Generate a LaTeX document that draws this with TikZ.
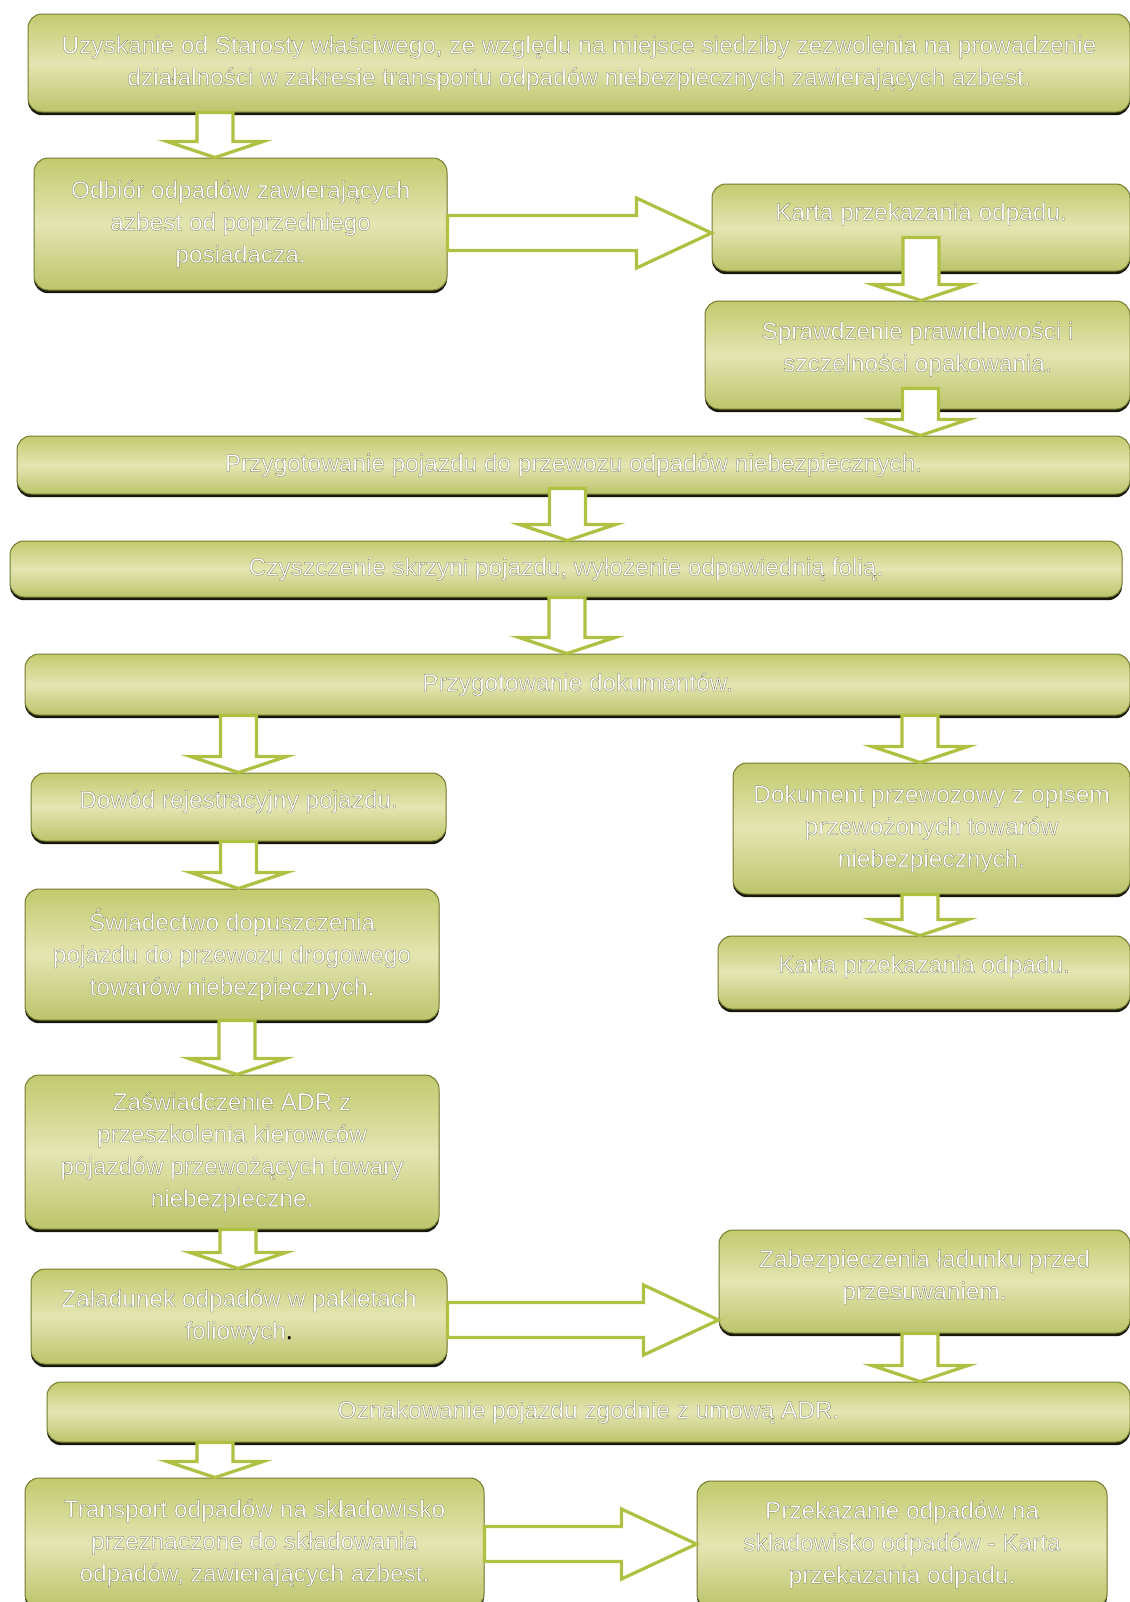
\documentclass[tikz,border=0pt]{standalone}
\usepackage{fontspec}
\setmainfont{Liberation Sans}
\newfontfamily\stepfont{Liberation Sans}[FakeBold=0.9]
\usetikzlibrary{calc, shadows}
\definecolor{boxedge}{RGB}{194,202,110}
\definecolor{boxmid}{RGB}{228,229,178}
\definecolor{boxline}{RGB}{118,124,48}
\definecolor{arrowline}{RGB}{176,192,66}
\tikzset{
  stepbox/.style={draw=boxline, line width=0.5pt, rounded corners=7pt, top color=boxedge, bottom color=boxedge!97!black, middle color=boxmid,
    drop shadow={shadow xshift=0pt, shadow yshift=-1.6pt, fill=black!80!boxline, opacity=1},
    align=center, inner sep=0pt, font=\stepfont\fontsize{12.2pt}{16.1pt}\selectfont,
    execute at begin node={\special{pdf:bcolor [1 1 1] [0.38 0.40 0.24]}},
    execute at end node={\special{pdf:ecolor}}},
  boxwh/.style 2 args={minimum width=#1*0.5pt, minimum height=#2*0.5pt},
  lift/.style={text depth=#1},
  blockdn/.style={fill=white, draw=arrowline, line width=1.6pt, line join=miter,
    to path={let \p1=(\tikztostart), \p2=(\tikztotarget) in (\x1-9pt,\y1) -- (\x1-9pt,\y2+8pt) -- (\x1-24pt,\y2+8pt) -- (\x1,\y2) -- (\x1+24pt,\y2+8pt) -- (\x1+9pt,\y2+8pt) -- (\x1+9pt,\y1) -- cycle}},
  blockrt/.style={fill=white, draw=arrowline, line width=1.6pt, line join=miter,
    to path={let \p1=(\tikztostart), \p2=(\tikztotarget) in (\x1,\y1+8.75pt) -- (\x2-37.5pt,\y1+8.75pt) -- (\x2-37.5pt,\y1+17.5pt) -- (\x2,\y1) -- (\x2-37.5pt,\y1-17.5pt) -- (\x2-37.5pt,\y1-8.75pt) -- (\x1,\y1-8.75pt) -- cycle}}
}

\begin{document}
\begin{tikzpicture}[x=0.5pt, y=-0.5pt]
\useasboundingbox (0,0) rectangle (1130,1602);
\clip (0,0) rectangle (1130,1602);
\fill[white] (0,0) rectangle (1130,1602);

\node[stepbox, boxwh={1102}{98}] (b1) at (579,63) {Uzyskanie od Starosty właściwego, ze względu na miejsce siedziby zezwolenia na prowadzenie\\ działalności w zakresie transportu odpadów niebezpiecznych zawierających azbest.};
\node[stepbox, boxwh={413}{132}] (b2) at (240.5,224) {Odbiór odpadów zawierających\\ azbest od poprzedniego\\ posiadacza.};
\node[stepbox, boxwh={418}{87}, lift=16pt] (b3) at (921,227.5) {Karta przekazania odpadu.};
\node[stepbox, boxwh={425}{108}, lift=8.5pt] (b4) at (917.5,355) {Sprawdzenie prawidłowości i\\ szczelności opakowania.};
\node[stepbox, boxwh={1113}{58}] (b5) at (573.5,465) {Przygotowanie pojazdu do przewozu odpadów niebezpiecznych.};
\node[stepbox, boxwh={1112}{56}] (b6) at (566,569) {Czyszczenie skrzyni pojazdu, wyłożenie odpowiednią folią.};
\node[stepbox, boxwh={1105}{61}] (b7) at (577.5,684.5) {Przygotowanie dokumentów.};
\node[stepbox, boxwh={415}{68}, lift=8pt] (b8) at (238.5,807) {Dowód rejestracyjny pojazdu.};
\node[stepbox, boxwh={397}{131}] (b9) at (931.5,828.5) {Dokument przewozowy z opisem\\ przewożonych towarów\\ niebezpiecznych.};
\node[stepbox, boxwh={412}{73}, lift=8.5pt] (b10) at (924,972.5) {Karta przekazania odpadu.};
\node[stepbox, boxwh={414}{131}] (b11) at (232,954.5) {Świadectwo dopuszczenia\\ pojazdu do przewozu drogowego\\ towarów niebezpiecznych.};
\node[stepbox, boxwh={414}{154}] (b12) at (232,1152) {Zaświadczenie ADR z\\ przeszkolenia kierowców\\ pojazdów przewożących towary\\ niebezpieczne.};
\node[stepbox, boxwh={416}{95}] (b13) at (239,1316.5) {Załadunek odpadów w pakietach\\ foliowych{\color{black}.}};
\node[stepbox, boxwh={411}{103}, lift=7pt] (b14) at (924.5,1281.5) {Zabezpieczenia ładunku przed\\ przesuwaniem.};
\node[stepbox, boxwh={1083}{60}] (b15) at (588.5,1412) {Oznakowanie pojazdu zgodnie z umową ADR.};
\node[stepbox, boxwh={459}{130}] (b16) at (254.5,1543) {Transport odpadów na składowisko\\ przeznaczone do składowania\\ odpadów, zawierających azbest.};
\node[stepbox, boxwh={410}{127}] (b17) at (902,1544.5) {Przekazanie odpadów na\\ składowisko odpadów - Karta\\ przekazania odpadu.};

\draw[blockdn] (215,0 |- b1.south) to (b2.north);
\draw[blockrt] ([shift={(0,9)}]b2.east) to (b3.west);
\draw[blockdn] ([shift={(0,-34)}]b3.south) to (b4.north);
\draw[blockdn] ([shift={(3,-21)}]b4.south) to (b5.north);
\draw[blockdn] ([shift={(-6,-6)}]b5.south) to (b6.north);
\draw[blockdn] (567,0 |- b6.south) to (b7.north);
\draw[blockdn] (b8.north |- b7.south) to (b8.north);
\draw[blockdn] (920,0 |- b7.south) to (b9.north);
\draw[blockdn] (b8.south) to (b11.north);
\draw[blockdn] (920,0 |- b9.south) to (b10.north);
\draw[blockdn] (237,0 |- b11.south) to (b12.north);
\draw[blockdn] (238,0 |- b12.south) to (b13.north);
\draw[blockrt] ([shift={(0,3.5)}]b13.east) to (b14.west);
\draw[blockdn] (920,0 |- b14.south) to (b15.north);
\draw[blockdn] (215,0 |- b15.south) to (b16.north);
\draw[blockrt] ([shift={(0,1)}]b16.east) to (b17.west);

\end{tikzpicture}
\end{document}
